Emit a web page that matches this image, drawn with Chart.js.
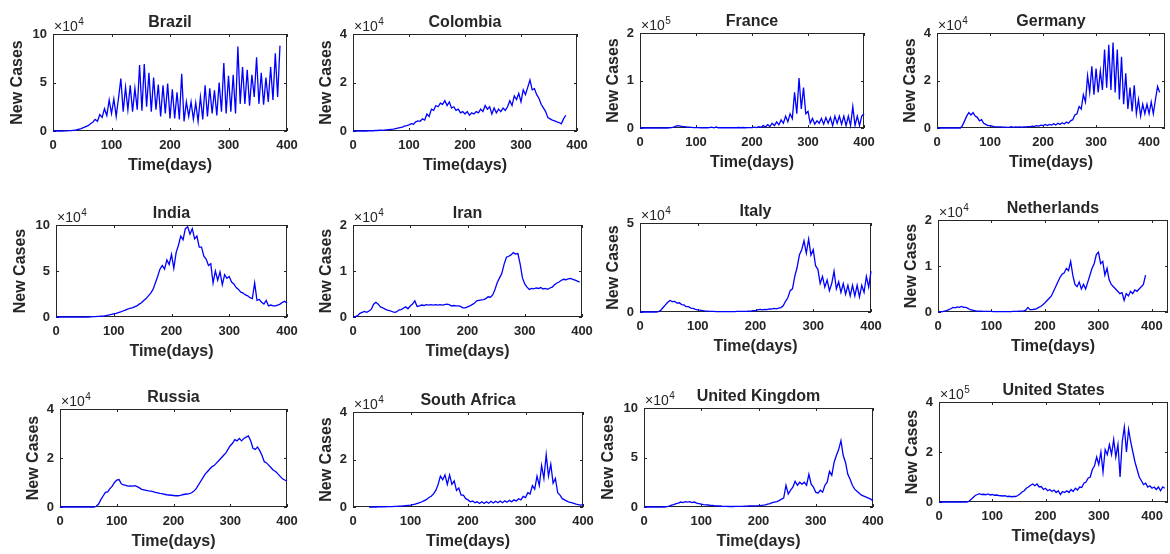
<!DOCTYPE html>
<html>
<head>
<meta charset="utf-8">
<script src="https://cdn.jsdelivr.net/npm/chart.js@4/dist/chart.umd.min.js"></script>
<style>
html,body{margin:0;padding:0;background:#fff;overflow:hidden;width:1170px;height:554px;position:relative}
.cell{position:absolute}
canvas{display:block}
</style>
</head>
<body>
<script>
// ---------- DATA ----------
const titles = ['Brazil','Colombia','France','Germany','India','Iran','Italy','Netherlands','Russia','South Africa','United Kingdom','United States'];
const exponents = [4,4,5,4,4,4,4,4,4,4,4,5];
const yTickLabels = [[0,5,10],[0,2,4],[0,1,2],[0,2,4],[0,5,10],[0,1,2],[0,5],[0,1,2],[0,2,4],[0,2,4],[0,5,10],[0,2,4]];
const xTickLabels = [0,100,200,300,400];
const xLimits = [400,400,400,430,400,400,400,430,400,400,400,430];
const dayStep = 4; // values below are sampled every 4 days, in units of 10^exponent

const brazil = [0,0,0,0,0,0.01,0.02,0.03,0.05,0.08,
0.12,0.18,0.25,0.35,0.45,0.55,0.75,0.9,1.2,1.0,
1.7,1.4,2.3,1.6,3.2,1.8,3.3,1.5,3.4,5.4,
2.0,4.5,2.2,4.7,2.0,4.4,2.2,6.8,2.1,6.9,
2.5,6.0,2.0,5.5,2.2,4.8,1.5,4.7,1.8,4.9,
1.3,4.3,1.3,4.0,1.2,5.9,1.0,3.0,1.5,3.0,
1.2,2.9,1.0,3.5,1.2,4.7,1.5,4.4,1.8,4.2,
1.6,5.0,2.0,7.0,1.8,5.7,2.0,5.8,1.8,8.7,
2.8,6.6,2.8,6.3,2.6,5.8,3.5,7.6,2.8,6.0,
2.7,5.5,3.0,6.6,3.2,8.0,3.5,8.8];

const colombia = [0,0,0,0,0,0,0,0.01,0.01,0.01,
0.02,0.02,0.03,0.03,0.04,0.05,0.06,0.07,0.08,0.1,
0.12,0.14,0.16,0.2,0.22,0.25,0.3,0.28,0.38,0.42,
0.4,0.5,0.45,0.7,0.6,0.9,0.85,1.05,1.0,1.15,
1.1,1.25,1.05,1.2,0.95,1.0,0.85,0.9,0.75,0.8,
0.7,0.8,0.65,0.75,0.7,0.8,0.75,0.9,0.8,1.05,
0.9,1.0,0.7,0.95,0.75,0.9,0.8,0.95,0.85,1.0,
1.25,1.05,1.45,1.3,1.55,1.2,1.7,1.5,1.8,2.1,
1.7,1.75,1.5,1.35,1.1,0.95,0.8,0.55,0.5,0.45,
0.42,0.38,0.35,0.3,0.5,0.65];

const france = [0,0,0,0,0,0,0,0,0,0,
0,0,0,0.005,0.01,0.02,0.04,0.05,0.04,0.03,
0.03,0.02,0.02,0.015,0.01,0.01,0.01,0.005,0.005,0.005,
0.005,0.01,0.02,0.005,0.02,0.005,0.005,0.005,0.005,0.005,
0.005,0.005,0.005,0.005,0.01,0.005,0.01,0.005,0.01,0.01,
0.01,0.02,0.01,0.03,0.015,0.05,0.02,0.07,0.03,0.1,
0.05,0.13,0.07,0.17,0.1,0.25,0.13,0.3,0.2,0.75,
0.3,1.05,0.4,0.85,0.3,0.35,0.1,0.2,0.08,0.15,
0.1,0.2,0.08,0.22,0.1,0.22,0.05,0.25,0.1,0.25,
0.08,0.25,0.05,0.25,0.05,0.45,0.05,0.25,0.05,0.25,
0.3];

const germany = [0,0,0,0,0,0,0,0,0,0,
0,0,0.1,0.3,0.5,0.65,0.55,0.65,0.5,0.45,
0.3,0.35,0.2,0.15,0.1,0.1,0.08,0.06,0.05,0.05,
0.05,0.04,0.04,0.03,0.03,0.06,0.03,0.05,0.04,0.05,
0.04,0.05,0.05,0.06,0.06,0.08,0.07,0.1,0.08,0.12,
0.1,0.15,0.1,0.15,0.12,0.18,0.13,0.2,0.15,0.22,
0.17,0.25,0.2,0.3,0.35,0.55,0.6,0.9,0.8,1.4,
1.1,2.2,1.5,2.6,1.4,2.5,1.5,2.4,1.6,3.3,
1.7,3.5,1.6,3.6,1.5,3.3,1.2,3.0,1.0,2.3,
0.8,1.7,0.7,1.8,0.6,1.2,0.5,1.0,0.6,1.0,
0.6,1.1,0.6,1.2,1.75,1.5];

const india = [0,0,0,0,0,0,0,0,0,0,
0,0,0,0,0,0.02,0.03,0.05,0.07,0.08,
0.1,0.13,0.17,0.22,0.28,0.35,0.4,0.48,0.55,0.65,
0.75,0.85,0.95,1.0,1.1,1.2,1.4,1.55,1.8,2.0,
2.3,2.6,3.0,3.7,4.4,5.2,5.6,5.2,6.2,5.7,
6.8,5.3,7.0,7.8,8.8,8.4,9.6,9.8,9.0,9.6,
8.5,8.8,7.6,7.6,6.6,6.3,5.6,5.8,3.7,5.0,
4.0,4.9,3.5,4.6,4.2,4.4,3.8,3.6,3.2,3.0,
2.7,2.6,2.4,2.3,2.1,2.0,3.7,1.8,1.9,1.6,
1.4,1.8,1.2,1.3,1.2,1.2,1.3,1.4,1.6,1.7,
1.5];

const iran = [0,0.01,0.03,0.08,0.1,0.12,0.1,0.13,0.17,0.28,
0.32,0.28,0.22,0.2,0.17,0.15,0.14,0.12,0.1,0.11,
0.15,0.16,0.19,0.22,0.18,0.24,0.28,0.35,0.23,0.24,
0.26,0.25,0.27,0.26,0.27,0.26,0.27,0.26,0.27,0.26,
0.27,0.28,0.27,0.24,0.25,0.24,0.24,0.23,0.2,0.2,
0.22,0.24,0.27,0.3,0.35,0.36,0.37,0.38,0.4,0.44,
0.43,0.48,0.6,0.75,0.85,0.95,1.15,1.3,1.32,1.35,
1.4,1.37,1.38,1.15,0.85,0.72,0.65,0.6,0.62,0.61,
0.63,0.62,0.64,0.61,0.62,0.6,0.63,0.65,0.7,0.74,
0.76,0.8,0.82,0.81,0.83,0.84,0.82,0.8,0.78,0.76];

const italy = [0,0,0,0,0,0,0,0,0.02,0.1,
0.25,0.4,0.55,0.65,0.58,0.6,0.5,0.52,0.42,0.4,
0.3,0.3,0.22,0.2,0.15,0.12,0.1,0.08,0.06,0.05,
0.04,0.03,0.03,0.02,0.02,0.02,0.02,0.02,0.02,0.02,
0.02,0.02,0.03,0.03,0.03,0.03,0.04,0.05,0.05,0.07,
0.08,0.12,0.15,0.12,0.15,0.13,0.18,0.16,0.2,0.18,
0.22,0.25,0.35,0.6,0.8,1.2,1.3,2.0,2.5,3.2,
3.5,4.0,3.3,4.1,3.2,3.5,2.6,2.4,1.6,2.0,
1.4,1.8,1.2,1.6,2.3,1.3,1.7,1.1,1.6,1.0,
1.5,0.9,1.5,0.9,1.5,0.85,1.5,1.1,2.0,1.4,
2.3];

const netherlands = [0,0.005,0.01,0.02,0.03,0.05,0.07,0.1,0.09,0.11,
0.1,0.12,0.1,0.1,0.08,0.05,0.04,0.03,0.02,0.02,
0.02,0.015,0.015,0.015,0.015,0.015,0.01,0.01,0.01,0.01,
0.01,0.01,0.01,0.01,0.01,0.015,0.015,0.015,0.02,0.02,
0.02,0.04,0.1,0.05,0.05,0.06,0.07,0.1,0.12,0.16,
0.2,0.25,0.3,0.35,0.45,0.55,0.65,0.75,0.82,0.85,
0.95,0.9,1.1,0.8,0.6,0.55,0.65,0.5,0.6,0.5,
0.65,0.8,0.95,1.05,1.25,1.3,1.05,1.1,0.8,0.95,
0.7,0.6,0.55,0.5,0.45,0.4,0.42,0.25,0.4,0.35,
0.45,0.4,0.48,0.45,0.5,0.55,0.6,0.8];

const russia = [0,0,0,0,0,0,0,0,0,0,
0,0,0,0,0,0,0.03,0.12,0.3,0.45,
0.6,0.62,0.75,0.85,1.0,1.1,1.12,0.95,0.9,0.88,
0.85,0.86,0.85,0.87,0.83,0.78,0.72,0.7,0.68,0.66,
0.65,0.63,0.6,0.58,0.56,0.55,0.52,0.5,0.49,0.48,
0.47,0.46,0.46,0.47,0.5,0.52,0.53,0.55,0.58,0.65,
0.75,0.9,1.05,1.2,1.35,1.45,1.55,1.65,1.7,1.8,
1.9,2.0,2.1,2.2,2.35,2.5,2.6,2.75,2.7,2.8,
2.7,2.8,2.85,2.9,2.7,2.4,2.35,2.45,2.3,2.1,
1.85,1.8,1.7,1.6,1.5,1.45,1.35,1.25,1.15,1.1,
1.05];

const southAfrica = [null,null,null,null,null,null,null,0,0,0,
0,0.01,0.01,0.01,0.01,0.02,0.02,0.02,0.03,0.03,
0.04,0.04,0.05,0.06,0.07,0.08,0.1,0.12,0.15,0.18,
0.22,0.27,0.32,0.4,0.45,0.55,0.7,0.95,1.3,1.15,
1.35,0.95,1.35,0.95,1.1,0.7,0.8,0.5,0.5,0.35,
0.3,0.22,0.25,0.18,0.22,0.15,0.22,0.15,0.22,0.16,
0.24,0.17,0.24,0.18,0.25,0.18,0.26,0.2,0.28,0.22,
0.3,0.25,0.35,0.3,0.45,0.4,0.6,0.55,0.9,0.75,
1.3,0.9,1.75,1.2,2.2,1.3,1.8,1.0,1.2,0.6,
0.5,0.35,0.3,0.25,0.2,0.18,0.15,0.12,0.1,0.08,
0.1];

const unitedKingdom = [0,0,0,0,0,0,0,0,0,0,
0.03,0.1,0.18,0.25,0.35,0.4,0.5,0.45,0.55,0.5,
0.55,0.45,0.5,0.4,0.35,0.3,0.25,0.22,0.2,0.17,
0.15,0.12,0.1,0.1,0.08,0.07,0.06,0.05,0.05,0.05,
0.06,0.06,0.07,0.07,0.08,0.09,0.1,0.1,0.12,0.12,
0.13,0.15,0.18,0.22,0.3,0.35,0.45,0.5,0.55,0.65,
0.8,0.9,2.2,1.3,1.7,2.0,2.6,2.2,2.5,2.3,
2.5,2.2,3.3,2.3,2.0,1.5,1.4,1.7,1.5,2.2,
2.5,3.6,3.2,4.5,5.2,5.8,6.7,5.2,4.5,3.3,
2.8,2.2,1.8,1.6,1.4,1.2,1.1,1.0,0.9,0.8,
0.6];

const unitedStates = [0,0,0,0,0,0,0,0,0,0,
0,0,0,0,0.02,0.1,0.18,0.26,0.3,0.33,
0.3,0.31,0.29,0.32,0.28,0.3,0.27,0.28,0.26,0.25,
0.24,0.25,0.22,0.23,0.21,0.22,0.22,0.26,0.32,0.4,
0.45,0.55,0.6,0.67,0.72,0.65,0.72,0.6,0.62,0.5,
0.55,0.45,0.5,0.42,0.48,0.38,0.45,0.3,0.42,0.38,
0.45,0.38,0.5,0.42,0.55,0.48,0.6,0.58,0.75,0.8,
0.95,1.0,1.3,1.45,1.8,1.5,2.0,1.2,2.1,1.9,
2.3,1.9,2.5,1.8,2.3,1.0,2.4,3.0,2.0,2.9,
2.4,2.0,1.6,1.3,1.0,0.85,0.7,0.75,0.6,0.65,
0.55,0.6,0.5,0.6,0.45,0.6,0.55];

const seriesList = [brazil,colombia,france,germany,india,iran,italy,netherlands,russia,southAfrica,unitedKingdom,unitedStates];

// ---------- LAYOUT (plot-box pixel edges: left, top, right, bottom) ----------
const boxes = [
 [53,34,287,131],[353,34,577,131],[640,33,864,128],[937,33,1165,128],
 [56,225,287,317],[353,225,582,317],[640,223,871,312],[938,220,1168,312],
 [60,409,287,507],[353,412,583,507],[644,408,873,507],[939,402,1168,502]
];
const PAD_L = 45, PAD_T = 30, PAD_R = 15, PAD_B = 45;
const FAMILY = "'Liberation Sans', Arial, Helvetica, sans-serif";
const INK = '#262626';
const LINE = '#0000FF';

const framePlugin = {
  id: 'matlabFrame',
  beforeDatasetsDraw(chart) {
    const {ctx, chartArea: a} = chart;
    const xs = chart.scales.x, ys = chart.scales.y;
    ctx.save();
    ctx.strokeStyle = INK;
    ctx.lineWidth = 1;
    ctx.beginPath();
    xs.ticks.forEach(t => {
      const p = Math.round(xs.getPixelForValue(t.value)) + 0.5;
      ctx.moveTo(p, a.bottom); ctx.lineTo(p, a.bottom - 3);
      ctx.moveTo(p, a.top); ctx.lineTo(p, a.top + 3);
    });
    ys.ticks.forEach(t => {
      const p = Math.round(ys.getPixelForValue(t.value)) + 0.5;
      ctx.moveTo(a.left, p); ctx.lineTo(a.left + 3, p);
      ctx.moveTo(a.right, p); ctx.lineTo(a.right - 3, p);
    });
    ctx.stroke();
    ctx.strokeRect(a.left + 0.5, a.top + 0.5, a.right - a.left - 1, a.bottom - a.top - 1);
    ctx.restore();
  },
  afterDraw(chart) {
    const o = chart.options.plugins.matlabFrame;
    const {ctx, chartArea: a} = chart;
    ctx.save();
    ctx.fillStyle = INK;
    ctx.textAlign = 'center';
    ctx.textBaseline = 'middle';
    ctx.font = 'bold 16px ' + FAMILY;
    ctx.fillText(o.title, (a.left + a.right) / 2, a.top - 11.5);
    ctx.textAlign = 'left';
    ctx.font = '14px ' + FAMILY;
    ctx.fillText('\u00D710', a.left + 1, a.top - 6.5);
    const w = ctx.measureText('\u00D710').width;
    ctx.font = '10px ' + FAMILY;
    ctx.fillText(String(o.exp), a.left + 1 + w + 0.5, a.top - 11.5);
    ctx.restore();
  }
};

titles.forEach((name, i) => {
  const [L, T, R, B] = boxes[i];
  const w = R - L + PAD_L + PAD_R;
  const h = B - T + PAD_T + PAD_B;
  const div = document.createElement('div');
  div.className = 'cell';
  div.style.left = (L - PAD_L) + 'px';
  div.style.top = (T - PAD_T) + 'px';
  div.style.width = w + 'px';
  div.style.height = h + 'px';
  const cv = document.createElement('canvas');
  cv.width = w; cv.height = h;
  cv.style.width = w + 'px'; cv.style.height = h + 'px';
  div.appendChild(cv);
  document.body.appendChild(div);

  const yt = yTickLabels[i];
  const ymax = yt[yt.length - 1];
  const ylabelGap = ymax >= 10 ? 35 : 26;
  const points = seriesList[i].map((v, k) => ({x: k * dayStep, y: v}));

  new Chart(cv, {
    type: 'line',
    data: {
      datasets: [{
        data: points,
        borderColor: LINE,
        borderWidth: 1.3,
        pointRadius: 0,
        tension: 0,
        fill: false,
        spanGaps: false,
        clip: 2
      }]
    },
    options: {
      responsive: false,
      animation: false,
      devicePixelRatio: 1,
      layout: {padding: {left: 0, top: PAD_T, right: PAD_R, bottom: 0}},
      plugins: {
        legend: {display: false},
        tooltip: {enabled: false},
        matlabFrame: {title: name, exp: exponents[i]}
      },
      scales: {
        x: {
          type: 'linear',
          min: 0,
          max: xLimits[i],
          afterBuildTicks: s => { s.ticks = xTickLabels.map(v => ({value: v})); },
          afterFit: s => { s.height = PAD_B; s.paddingLeft = 0; s.paddingRight = 0; },
          grid: {display: false, drawTicks: false},
          border: {display: false},
          ticks: {padding: 7, autoSkip: false, maxRotation: 0, color: INK,
                  font: {family: FAMILY, size: 13, weight: 'bold'}},
          title: {display: true, text: 'Time(days)', color: INK,
                  font: {family: FAMILY, size: 16, weight: 'bold'},
                  padding: {top: 0, bottom: PAD_B - 9.6 - 35}}
        },
        y: {
          type: 'linear',
          min: 0,
          max: ymax,
          afterBuildTicks: s => { s.ticks = yt.map(v => ({value: v})); },
          afterFit: s => { s.width = PAD_L; s.paddingTop = 0; s.paddingBottom = 0; },
          grid: {display: false, drawTicks: false},
          border: {display: false},
          ticks: {padding: 6, autoSkip: false, color: INK,
                  font: {family: FAMILY, size: 13, weight: 'bold'}},
          title: {display: true, text: 'New Cases', color: INK,
                  font: {family: FAMILY, size: 16, weight: 'bold'},
                  padding: {top: PAD_L - 9.6 - ylabelGap, bottom: 0}}
        }
      }
    },
    plugins: [framePlugin]
  });
});
</script>
</body>
</html>
